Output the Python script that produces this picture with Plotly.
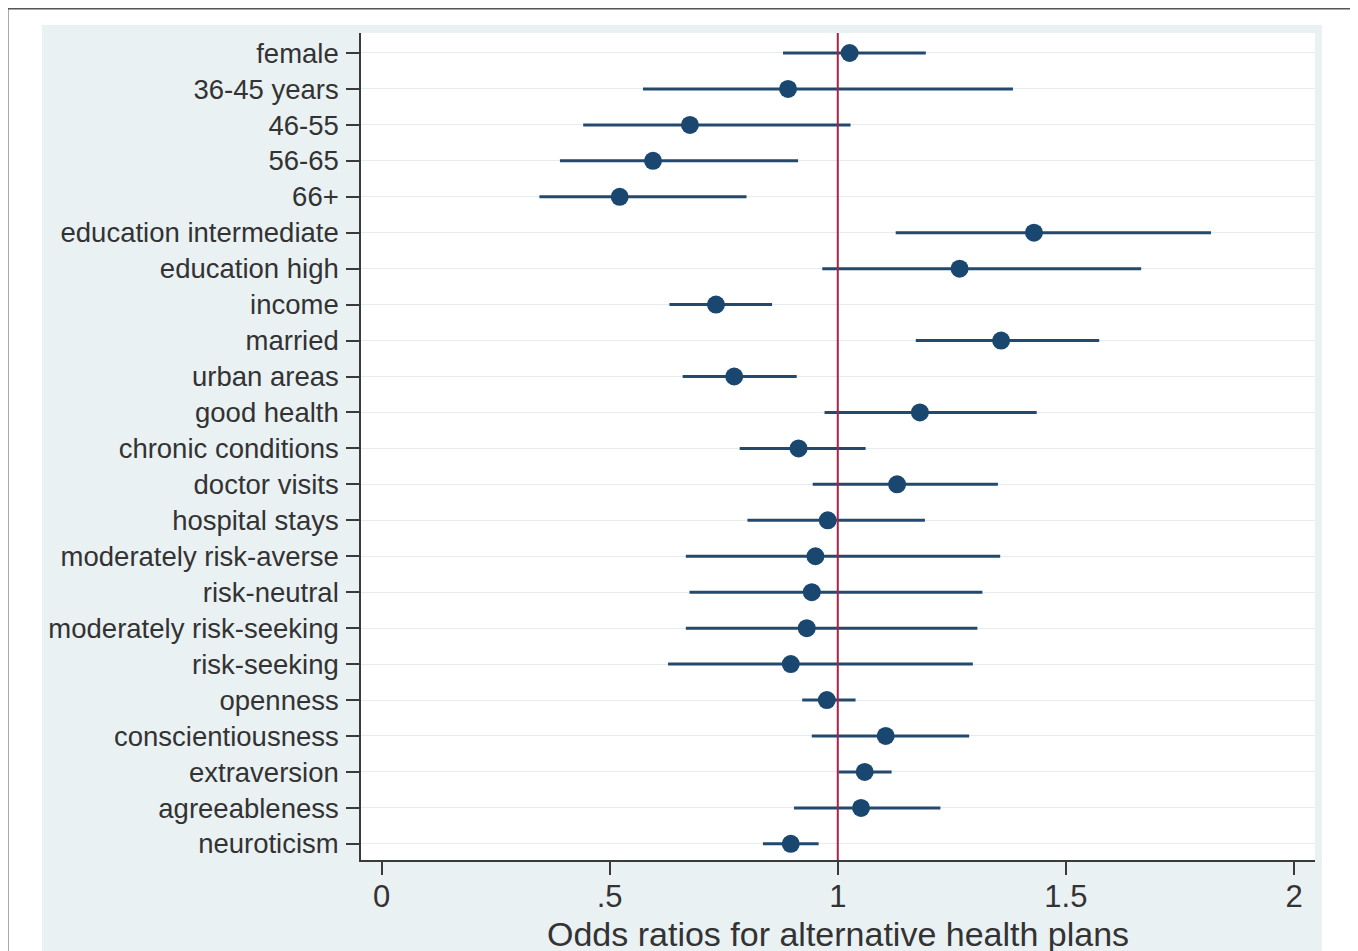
import plotly.graph_objects as go

labels = ["female", "36-45 years", "46-55", "56-65", "66+",
          "education intermediate", "education high", "income", "married",
          "urban areas", "good health", "chronic conditions", "doctor visits",
          "hospital stays", "moderately risk-averse", "risk-neutral",
          "moderately risk-seeking", "risk-seeking", "openness",
          "conscientiousness", "extraversion", "agreeableness", "neuroticism"]
odds = [1.026, 0.891, 0.676, 0.595, 0.522,
        1.430, 1.267, 0.733, 1.358,
        0.773, 1.180, 0.914, 1.130,
        0.978, 0.951, 0.943,
        0.932, 0.897, 0.976,
        1.105, 1.059, 1.051, 0.897]
ci_low = [0.880, 0.573, 0.442, 0.391, 0.346,
          1.127, 0.966, 0.631, 1.171,
          0.660, 0.971, 0.785, 0.945,
          0.802, 0.667, 0.675,
          0.667, 0.628, 0.922,
          0.943, 1.002, 0.904, 0.836]
ci_high = [1.193, 1.384, 1.028, 0.913, 0.800,
           1.818, 1.665, 0.856, 1.573,
           0.910, 1.436, 1.061, 1.351,
           1.191, 1.356, 1.317,
           1.306, 1.296, 1.039,
           1.288, 1.118, 1.225, 0.958]
xticks = [0, 0.5, 1, 1.5, 2]
xticklabels = ["0", ".5", "1", "1.5", "2"]
ref_value = 1
x_title = "Odds ratios for alternative health plans"

navy = "#1a476f"
txt = "#333333"
font = "Liberation Sans, Arial, Helvetica, sans-serif"

# page body has an 8px margin: figure is drawn 8px smaller
OFF = 8
W, H = 1358 - OFF, 951 - OFF
PL, PR, PT, PB = 361, 1315, 33, 860   # plot box in screen pixels
pw, ph = PR - PL, PB - PT

def px(x):
    return (x - PL) / pw

def py(y):
    return (PB - y) / ph

fig = go.Figure()
fig.add_trace(go.Scatter(
    x=odds, y=labels, mode="markers",
    marker=dict(size=18, color=navy),
    error_x=dict(type="data", symmetric=False,
                 array=[h - o for h, o in zip(ci_high, odds)],
                 arrayminus=[o - l for o, l in zip(odds, ci_low)],
                 thickness=3, width=0, color="#234a6e"),
    showlegend=False, hoverinfo="skip"))

fig.add_vline(x=ref_value, line=dict(color="#a8234a", width=2), layer="above")

shapes = [
    dict(type="rect", xref="paper", yref="paper", layer="below",
         x0=px(42), x1=px(1322), y0=py(1000), y1=py(25),
         fillcolor="#eaf1f3", line=dict(width=0)),
    dict(type="rect", xref="paper", yref="paper", layer="below",
         x0=0, x1=1, y0=0, y1=1,
         fillcolor="white", line=dict(width=0)),
    dict(type="rect", xref="paper", yref="paper", layer="below",
         x0=px(7.5), x1=px(1356), y0=py(1000), y1=py(8.5),
         fillcolor="rgba(0,0,0,0)", line=dict(color="#555555", width=2)),
]
for s in shapes:
    fig.add_shape(**s)

fig.add_annotation(text=x_title, xref="paper", yref="paper",
                   x=0.5, y=py(913), xanchor="center", yanchor="top",
                   showarrow=False, font=dict(size=34, color=txt))

fig.update_layout(
    width=W, height=H,
    margin=dict(l=PL - OFF, r=W - (PR - OFF), t=PT - OFF, b=H - (PB - OFF), pad=0),
    paper_bgcolor="white", plot_bgcolor="white",
    font=dict(family=font, color=txt),
)
fig.update_xaxes(
    range=[-0.045, 2.046], tickvals=xticks, ticktext=xticklabels,
    showgrid=False, zeroline=False, automargin=False,
    showline=True, linecolor="#3a3a3a", linewidth=1.5,
    ticks="outside", ticklen=13, tickwidth=1.5, tickcolor="#3a3a3a",
    tickfont=dict(size=31, color=txt), ticklabelstandoff=-5,
)
fig.update_yaxes(
    type="category", categoryorder="array", categoryarray=labels,
    range=[22.45, -0.556], automargin=False,
    showgrid=True, gridcolor="#e6ecee", gridwidth=1.2, zeroline=False,
    showline=True, linecolor="#3a3a3a", linewidth=1.5,
    ticks="outside", ticklen=13, tickwidth=1.5, tickcolor="#3a3a3a",
    tickfont=dict(size=27.5, color=txt), ticklabelstandoff=2,
)

fig.write_html("out.html")
